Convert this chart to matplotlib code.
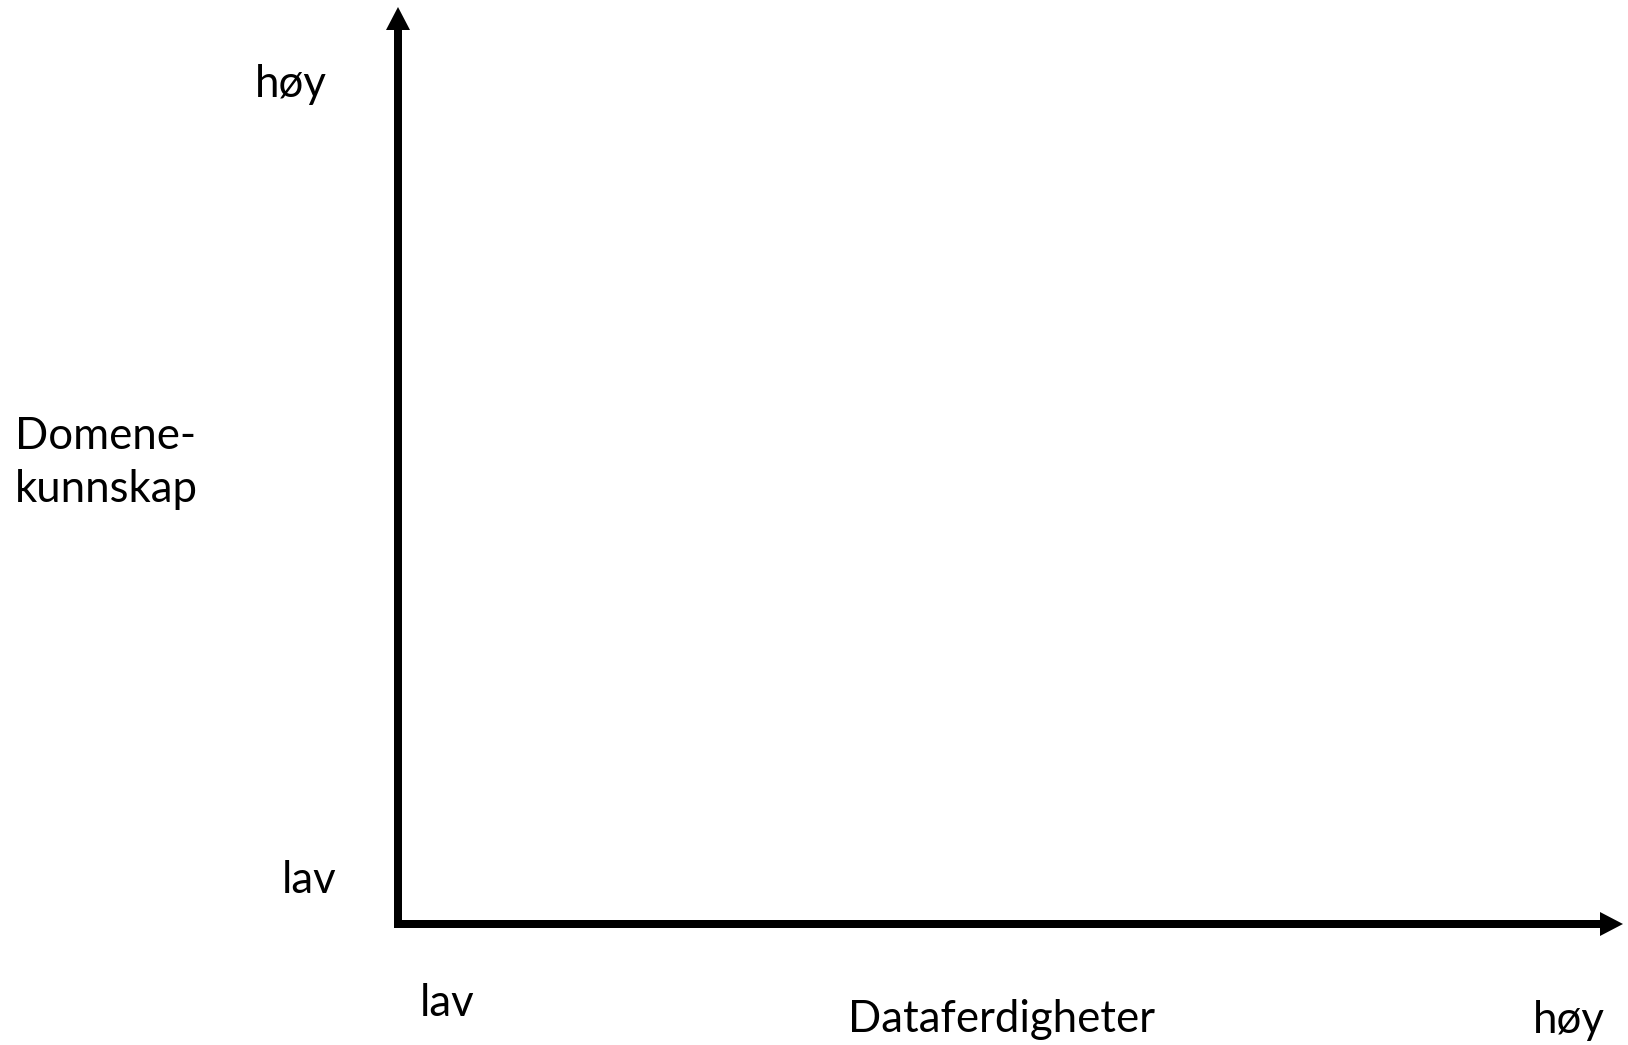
import matplotlib.pyplot as plt

# diagram layout in pixel coords of the 1628x1045 picture
W, H = 1628, 1045
origin = (398, 924)
x_end = 1623
y_end = 7

y_labels = ["lav", "høy"]
y_label_pos = [(282, 893), (255, 97)]
x_labels = ["lav", "høy"]
x_label_pos = [(420, 1016), (1533, 1033)]
x_title = "Dataferdigheter"
y_title = "Domene-\nkunnskap"

plt.rcParams['font.family'] = ['Lato', 'DejaVu Sans']

fig = plt.figure(figsize=(W / 100, H / 100), dpi=100)
ax = fig.add_axes([0, 0, 1, 1])
ax.set_xlim(0, W)
ax.set_ylim(H, 0)
ax.axis('off')

lw = 8
ax.arrow(origin[0], origin[1] + lw / 2, 0, y_end - origin[1] - lw / 2, width=lw,
         head_width=24, head_length=23, length_includes_head=True,
         color='black', lw=0)
ax.arrow(origin[0] - lw / 2, origin[1], x_end - origin[0] + lw / 2, 0, width=lw,
         head_width=24, head_length=23, length_includes_head=True,
         color='black', lw=0)

fs = 31.5
for lab, (x, y) in zip(y_labels + x_labels, y_label_pos + x_label_pos):
    ax.text(x, y, lab, fontsize=fs, ha='left', va='baseline')

ax.text(848, 1032, x_title, fontsize=fs, ha='left', va='baseline')
ax.text(15, 449, y_title.split("\n")[0], fontsize=fs, ha='left', va='baseline')
ax.text(15, 502, y_title.split("\n")[1], fontsize=fs, ha='left', va='baseline')

fig.savefig('out.png', dpi=100)
